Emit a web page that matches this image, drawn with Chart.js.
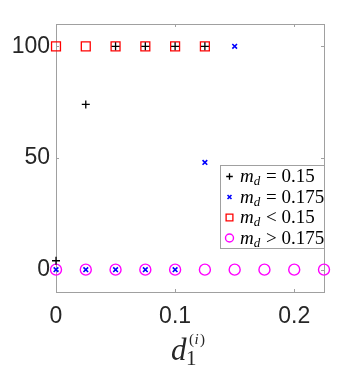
<!DOCTYPE html>
<html>
<head>
<meta charset="utf-8">
<script src="https://cdn.jsdelivr.net/npm/chart.js@4"></script>
<style>
  html, body { margin: 0; padding: 0; background: #fff; }
  #wrap { width: 349px; height: 385px; }
</style>
</head>
<body>
<div id="wrap"><canvas id="myChart" width="349" height="385"></canvas></div>
<script>
// x positions d_1^(i)
var xVals = [0, 0.025, 0.05, 0.075, 0.1, 0.125, 0.15, 0.175, 0.2, 0.225];

// percentages
var mdEq015 = [4, 74, 100, 100, 100, 100];
var mdEq0175 = [0, 0, 0, 0, 0, 48, 100];
var mdLess015 = [100, 100, 100, 100, 100, 100];
var mdMore0175 = [0, 0, 0, 0, 0, 0, 0, 0, 0, 0];

var xTicks = [0, 0.1, 0.2];
var yTicks = [0, 50, 100];

var legendNames = [
    {sub: 'd', rest: ' = 0.15'},
    {sub: 'd', rest: ' = 0.175'},
    {sub: 'd', rest: ' < 0.15'},
    {sub: 'd', rest: ' > 0.175'}
];
var legendRadius = [3.3, 2.8, 4.8, 4];

function pts(vals) {
    return vals.map(function (v, i) { return {x: xVals[i], y: v}; });
}

var element = document.getElementById('myChart').getContext('2d');

var datasets = [
    {label: 'md=0.15', data: pts(mdEq015), pointStyle: 'cross', pointRadius: 4,
     borderColor: '#000000', backgroundColor: '#000000', borderWidth: 1.3},
    {label: 'md=0.175', data: pts(mdEq0175), pointStyle: 'crossRot', pointRadius: 3.3,
     borderColor: '#0000ff', backgroundColor: '#0000ff', borderWidth: 1.6},
    {label: 'md<0.15', data: pts(mdLess015), pointStyle: 'rect', pointRadius: 6.3,
     borderColor: '#ff0000', backgroundColor: 'rgba(0,0,0,0)', borderWidth: 1.3},
    {label: 'md>0.175', data: pts(mdMore0175), pointStyle: 'circle', pointRadius: 5.5,
     borderColor: '#ff00ff', backgroundColor: 'rgba(0,0,0,0)', borderWidth: 1.4}
];
datasets.forEach(function (d) {
    d.showLine = false;
    d.clip = false;
    d.pointHoverRadius = d.pointRadius;
});

// box, inward ticks, x title and legend
var framePlugin = {
    id: 'frame',
    beforeDatasetsDraw: function (chart) {
        var ctx = chart.ctx, a = chart.chartArea;
        var xs = chart.scales.x, ys = chart.scales.y;
        ctx.save();
        ctx.strokeStyle = '#a0a0a0';
        ctx.lineWidth = 1;
        ctx.strokeRect(Math.round(a.left) + 0.5, Math.round(a.top) + 0.5,
            Math.round(a.right - a.left), Math.round(a.bottom - a.top));
        ctx.beginPath();
        xTicks.forEach(function (t) {
            var px = Math.round(xs.getPixelForValue(t)) + 0.5;
            ctx.moveTo(px, a.top); ctx.lineTo(px, a.top + 3);
            ctx.moveTo(px, a.bottom); ctx.lineTo(px, a.bottom - 3);
        });
        yTicks.forEach(function (t) {
            var py = Math.round(ys.getPixelForValue(t)) + 0.5;
            ctx.moveTo(a.left, py); ctx.lineTo(a.left + 3, py);
            ctx.moveTo(a.right, py); ctx.lineTo(a.right - 3, py);
        });
        ctx.stroke();
        ctx.restore();
    },
    afterDraw: function (chart) {
        var ctx = chart.ctx;
        ctx.save();
        ctx.fillStyle = '#262626';
        ctx.textBaseline = 'alphabetic';
        // x title d_1^(i)
        ctx.font = 'italic 31px "Liberation Serif"';
        ctx.fillText('d', 171, 360);
        ctx.font = '21px "Liberation Serif"';
        ctx.fillText('1', 186, 365);
        ctx.font = '15px "Liberation Serif"';
        ctx.fillText('(', 189, 344);
        ctx.font = 'italic 15px "Liberation Serif"';
        ctx.fillText('i', 194.5, 344);
        ctx.font = '15px "Liberation Serif"';
        ctx.fillText(')', 200, 344);

        // legend
        var lx = 220.5, ly = 165.5, lw = 104, lh = 83;
        ctx.fillStyle = '#ffffff';
        ctx.fillRect(lx, ly, lw, lh);
        ctx.strokeStyle = '#a0a0a0';
        ctx.lineWidth = 1;
        ctx.strokeRect(lx, ly, lw, lh);
        datasets.forEach(function (d, i) {
            var cy = 176 + i * 20.5;
            ctx.save();
            ctx.strokeStyle = d.borderColor;
            ctx.fillStyle = d.backgroundColor;
            ctx.lineWidth = d.borderWidth;
            Chart.helpers.drawPoint(ctx, {pointStyle: d.pointStyle, rotation: 0,
                radius: legendRadius[i], borderWidth: d.borderWidth}, 229.5, cy + 0.5);
            ctx.restore();
            ctx.fillStyle = '#000000';
            ctx.font = 'italic 19px "Liberation Serif"';
            ctx.fillText('m', 240, cy + 6);
            var mw = ctx.measureText('m').width;
            ctx.font = 'italic 13px "Liberation Serif"';
            ctx.fillText(legendNames[i].sub, 240 + mw, cy + 9);
            var dw = ctx.measureText(legendNames[i].sub).width;
            ctx.font = '19px "Liberation Serif"';
            ctx.fillText(legendNames[i].rest, 240 + mw + dw + 1, cy + 6);
        });
        ctx.restore();
    }
};

var chartOptions = {
    responsive: false,
    animation: false,
    events: [],
    layout: {padding: {left: 0, top: 24, right: 25, bottom: 0}},
    plugins: {legend: {display: false}, tooltip: {enabled: false}},
    scales: {
        x: {
            type: 'linear', min: 0, max: 0.225,
            afterBuildTicks: function (s) { s.ticks = xTicks.map(function (v) { return {value: v}; }); },
            afterFit: function (s) { s.height = 93; },
            grid: {display: false, drawTicks: false},
            border: {display: false},
            ticks: {padding: 11, color: '#262626', maxRotation: 0,
                font: {family: '"Liberation Sans", Arial', size: 23},
                callback: function (v) { return String(v); }}
        },
        y: {
            type: 'linear', min: -10, max: 110,
            afterBuildTicks: function (s) { s.ticks = yTicks.map(function (v) { return {value: v}; }); },
            afterFit: function (s) { s.width = 56; },
            grid: {display: false, drawTicks: false},
            border: {display: false},
            ticks: {padding: 6, color: '#262626',
                font: {family: '"Liberation Sans", Arial', size: 23}}
        }
    }
};

var chart = new Chart(element, {type: 'scatter', data: {datasets: datasets}, options: chartOptions, plugins: [framePlugin]});
</script>
</body>
</html>
